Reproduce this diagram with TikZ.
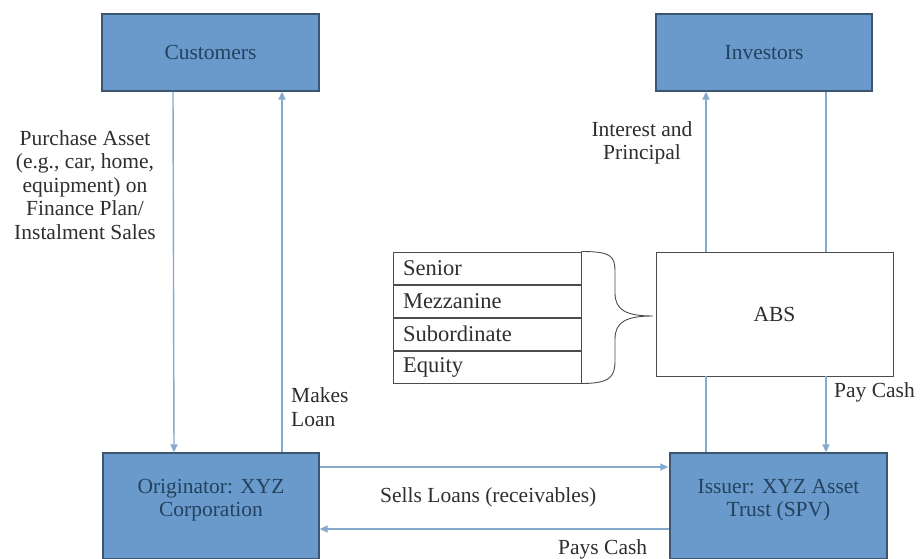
\documentclass[tikz,border=0pt]{standalone}
\usepackage{fontspec}
\setmainfont{Liberation Serif}
\usetikzlibrary{arrows.meta}
\definecolor{boxfill}{HTML}{6A9ACB}
\definecolor{boxline}{HTML}{3C5670}
\definecolor{boxtext}{HTML}{23425F}
\definecolor{flowc}{HTML}{86AACE}
\definecolor{txt}{HTML}{2E2E2E}
\newcommand\lblfont{\fontsize{21.5}{23.5}\selectfont}
\tikzset{
  bluebox/.style={draw=boxline, line width=1.3pt, fill=boxfill, inner sep=0pt},
  boxlabel/.style={text=boxtext, align=center, font=\lblfont},
  lbl/.style={text=txt, font=\lblfont, inner sep=0pt},
  whitebox/.style={draw=black!70, line width=0.8pt, fill=white, inner sep=0pt},
  tranche/.style={draw=black!70, line width=0.8pt, minimum width=188pt, minimum height=32.2pt,
     text width=168pt, align=left, inner sep=0pt, text=txt, font=\fontsize{22.5}{23.5}\selectfont},
  flow/.style={draw=flowc, line width=1.4pt},
  flowarr/.style={flow, -{Triangle[length=8pt,width=7pt]}},
}
\begin{document}
\begin{tikzpicture}[x=1pt,y=-1pt]
\useasboundingbox (0,0) rectangle (921,558);
% top boxes
\node[bluebox, minimum width=217pt, minimum height=77pt] (cust) at (210.5,52.5) {};
\node[boxlabel] (custt) at (cust.center) {Customers};
\node[bluebox, minimum width=216pt, minimum height=77pt] (inv) at (764,52.5) {};
\node[boxlabel] (invt) at (inv.center) {Investors};
% bottom boxes
\node[bluebox, minimum width=216pt, minimum height=106pt] (orig) at (211,506) {};
\node[boxlabel] (origt) at (211,500) {Originator: XYZ\\Corporation};
\node[bluebox, minimum width=217pt, minimum height=106pt] (iss) at (778.5,506) {};
\node[boxlabel] (isst) at (778.5,500) {Issuer: XYZ Asset\\Trust (SPV)};
% ABS box
\node[whitebox, minimum width=237pt, minimum height=124pt] (abs) at (774.5,314) {};
\node[boxlabel, text=txt] (abst) at (abs.center) {ABS};
% tranches
\node[tranche] (sen) at (487,268) {Senior};
\node[tranche, anchor=north] (mez) at (sen.south) {Mezzanine};
\node[tranche, anchor=north] (sub) at (mez.south) {Subordinate};
\node[tranche, anchor=north] (eq) at (sub.south) {Equity};
% brace
\coordinate (btip) at (653,316);
\draw[black!70, line width=0.9pt] (sen.north east) .. controls +(30,0) and (615,256) .. (615,272)
  -- (615,293) .. controls (615,310) and (626,316) .. (btip)
  .. controls (626,316) and (615,322) .. (615,339) -- (615,360)
  .. controls (615,376) and +(30,0) .. (eq.south east);
% customer / originator flows
\draw[flowarr] ([xshift=-37.5pt]cust.south) -- ([xshift=-37pt]orig.north);
\draw[flowarr] ([xshift=71pt]orig.north) -- ([xshift=71.5pt]cust.south);
% originator / issuer flows
\draw[flowarr] ([yshift=39pt]orig.east) -- ([yshift=39pt,xshift=-1pt]iss.west);
\draw[flowarr] ([yshift=-23pt]iss.west) -- ([yshift=-23pt]orig.east);
% issuer / ABS / investors
\draw[flow] ([xshift=-72.5pt]iss.north) -- ([xshift=-68.5pt]abs.south);
\draw[flowarr] ([xshift=-68.5pt]abs.north) -- ([xshift=-58pt]inv.south);
\draw[flow] ([xshift=62pt]inv.south) -- ([xshift=51.5pt]abs.north);
\draw[flowarr] ([xshift=51.5pt]abs.south) -- ([xshift=47.5pt]iss.north);
% labels
\node[lbl, align=center] (lpurch) at (85,185) {Purchase Asset\\(e.g., car, home,\\equipment) on\\Finance Plan/\\Instalment Sales};
\node[lbl, align=left, anchor=west] (lmakes) at (291,407) {Makes\\Loan};
\node[lbl, align=center] (linter) at (642,143) {Interest and\\Principal};
\node[lbl, anchor=west] (lpay) at (834,392) {Pay Cash};
\node[lbl, anchor=west] (lsells) at (380,497) {Sells Loans (receivables)};
\node[lbl, anchor=west] (lpays) at (558,549) {Pays Cash};
\end{tikzpicture}
\end{document}
